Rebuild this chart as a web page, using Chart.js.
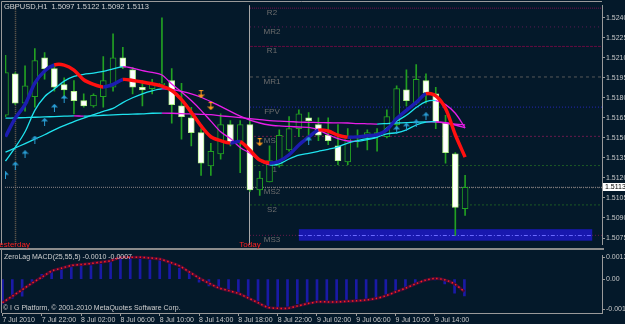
<!DOCTYPE html>
<html><head><meta charset="utf-8">
<script src="https://cdn.jsdelivr.net/npm/chart.js@4.4.1/dist/chart.umd.min.js"></script>
<style>
html,body{margin:0;padding:0;background:#04192a;width:625px;height:324px;overflow:hidden}
canvas{position:absolute;left:0}
#c1{top:0}
#c2{top:250px}
</style></head><body>
<canvas id="c1" width="625" height="250" style="width:625px;height:250px"></canvas>
<canvas id="c2" width="625" height="74" style="width:625px;height:74px"></canvas>
<script>
// ---------- DATA ----------
const openP  = [1.5167,1.5198,1.5176,1.5181,1.5210,1.5202,1.5190,1.5185,1.5178,1.5174,1.5181,1.5188,1.5210,1.5201,1.5188,1.5187,1.5190,1.5193,1.5174,1.5165,1.5154,1.5129,1.5138,1.5160,1.5146,1.5160,1.5111,1.5117,1.5129,1.5141,1.5157,1.5165,1.5160,1.5152,1.5144,1.5132,1.5151,1.5152,1.5152,1.5151,1.5160,1.5186,1.5176,1.5193,1.5183,1.5161,1.5138,1.5097];
const highP  = [1.5212,1.5199,1.5204,1.5217,1.5214,1.5205,1.5195,1.5193,1.5183,1.5183,1.5211,1.5228,1.5218,1.5203,1.5193,1.5194,1.5240,1.5202,1.5191,1.5173,1.5157,1.5146,1.5168,1.5163,1.5163,1.5163,1.5125,1.5144,1.5156,1.5166,1.5171,1.5169,1.5165,1.5165,1.5160,1.5157,1.5156,1.5156,1.5157,1.5171,1.5189,1.5201,1.5205,1.5198,1.5188,1.5167,1.5139,1.5122];
const lowP   = [1.5166,1.5175,1.5170,1.5173,1.5194,1.5185,1.5180,1.5168,1.5173,1.5173,1.5173,1.5185,1.5202,1.5183,1.5174,1.5183,1.5188,1.5161,1.5149,1.5144,1.5122,1.5122,1.5134,1.5144,1.5124,1.5110,1.5107,1.5117,1.5128,1.5140,1.5151,1.5148,1.5148,1.5145,1.5130,1.5130,1.5143,1.5141,1.5140,1.5150,1.5157,1.5174,1.5175,1.5176,1.5157,1.5131,1.5077,1.5092];
const closeP = [1.5199,1.5176,1.5189,1.5208,1.5202,1.5188,1.5186,1.5178,1.5174,1.5182,1.5193,1.5210,1.5203,1.5188,1.5186,1.5191,1.5191,1.5175,1.5166,1.5154,1.5131,1.5140,1.5160,1.5146,1.5160,1.5111,1.5120,1.5133,1.5152,1.5157,1.5168,1.5163,1.5152,1.5148,1.5133,1.5151,1.5150,1.5154,1.5154,1.5166,1.5187,1.5178,1.5194,1.5184,1.5162,1.5139,1.5098,1.5113];

const maFast = [1.51509,1.51648,1.51750,1.51911,1.52002,1.52047,1.52046,1.52009,1.51936,1.51901,1.51882,1.51901,1.51938,1.51931,1.51920,1.51906,1.51889,1.51856,1.51787,1.51692,1.51590,1.51509,1.51480,1.51462,1.51473,1.51407,1.51334,1.51312,1.51327,1.51374,1.51447,1.51506,1.51558,1.51552,1.51520,1.51506,1.51508,1.51517,1.51524,1.51561,1.51645,1.51707,1.51766,1.51831,1.51816,1.51721,1.51524,1.51356];
const maMid  = [1.51327,1.51429,1.51546,1.51707,1.51809,1.51867,1.51926,1.51962,1.51977,1.51986,1.51999,1.52018,1.52035,1.52023,1.52004,1.51991,1.51972,1.51904,1.51845,1.51780,1.51707,1.51626,1.51546,1.51495,1.51429,1.51385,1.51331,1.51298,1.51305,1.51342,1.51371,1.51385,1.51400,1.51415,1.51433,1.51462,1.51480,1.51495,1.51506,1.51531,1.51539,1.51561,1.51597,1.51619,1.51621,1.51612,1.51597,1.51575];
const maSlow = [1.51393,1.51425,1.51458,1.51491,1.51524,1.51561,1.51593,1.51623,1.51648,1.51674,1.51699,1.51721,1.51765,1.51801,1.51831,1.51853,1.51867,1.51863,1.51849,1.51831,1.51805,1.51772,1.51736,1.51699,1.51663,1.51634,1.51612,1.51597,1.51590,1.51586,1.51582,1.51579,1.51561,1.51524,1.51495,1.51477,1.51475,1.51488,1.51506,1.51575,1.51626,1.51670,1.51728,1.51772,1.51780,1.51750,1.51685,1.51575];
const maLong = [1.51648,1.51650,1.51653,1.51655,1.51658,1.51660,1.51663,1.51666,1.51663,1.51666,1.51670,1.51673,1.51676,1.51678,1.51681,1.51685,1.51686,1.51685,1.51682,1.51680,1.51677,1.51674,1.51666,1.51659,1.51652,1.51644,1.51637,1.51630,1.51626,1.51623,1.51619,1.51617,1.51615,1.51614,1.51613,1.51612,1.51608,1.51606,1.51604,1.51608,1.51612,1.51615,1.51619,1.51621,1.51620,1.51615,1.51604,1.51597];

const macdHist   = [-0.00147,-0.00114,-0.00101,-0.00018,0.00028,0.00043,0.00065,0.00078,0.00083,0.00080,0.00089,0.00111,0.00120,0.00130,0.00120,0.00115,0.00111,0.00093,0.00065,0.00037,-0.00018,-0.00040,-0.00057,-0.00074,-0.00083,-0.00111,-0.00129,-0.00173,-0.00168,-0.00162,-0.00146,-0.00139,-0.00129,-0.00129,-0.00133,-0.00129,-0.00124,-0.00118,-0.00111,-0.00090,-0.00068,-0.00046,-0.00028,-0.00010,-0.00005,-0.00028,-0.00083,-0.00100];
const macdSignal = [-0.00140,-0.00101,-0.00063,-0.00024,0.00012,0.00048,0.00065,0.00081,0.00087,0.00093,0.00101,0.00109,0.00129,0.00130,0.00130,0.00126,0.00120,0.00101,0.00079,0.00043,0.00007,-0.00024,-0.00052,-0.00068,-0.00085,-0.00112,-0.00140,-0.00168,-0.00173,-0.00173,-0.00160,-0.00146,-0.00135,-0.00135,-0.00135,-0.00132,-0.00129,-0.00124,-0.00115,-0.00099,-0.00076,-0.00054,-0.00029,-0.00007,0.00004,-0.00004,-0.00029,-0.00074];

const pivotNames  = ['R2','MR2','R1','MR1','FPV','MS1','S1','MS2','S2','MS3'];
const pivotLevels = [1.52473,1.52332,1.52186,1.51957,1.51731,1.51512,1.51293,1.51127,1.50998,1.50770];
const zoneLow = 1.50730, zoneHigh = 1.50816, zoneFrom = 30, zoneTo = 60;

const upArrowIdx   = [0,1,2,3,4,5,6,31,40,41,42,43];
const upArrowPrice = [1.51220,1.51293,1.51378,1.51488,1.51621,1.51726,1.51792,1.51480,1.51561,1.51585,1.51609,1.51663];
const downArrowIdx   = [20,21,26];
const downArrowPrice = [1.51828,1.51738,1.51468];

const priceTicks   = [1.5240,1.5225,1.5210,1.5195,1.5180,1.5165,1.5150,1.5135,1.5120,1.5105,1.5090,1.5075];
const macdTicks    = [0.0013,0,-0.0018];
const macdTickText = ['0.0013','0.00','-0.0018'];
const timeTickIndex = [0,4,8,12,16,20,24,28,32,36,40,44];
const timeTickText  = ['7 Jul 2010','7 Jul 22:00','8 Jul 02:00','8 Jul 06:00','8 Jul 10:00','8 Jul 14:00','8 Jul 18:00','8 Jul 22:00','9 Jul 02:00','9 Jul 06:00','9 Jul 10:00','9 Jul 14:00'];
const todayIdx = 25, yesterdayIdx = 1;
const headerText = 'GBPUSD,H1  1.5097 1.5122 1.5092 1.5113';
const macdTitle = 'ZeroLag MACD(25,55,5) -0.0010 -0.0007';
const copyright = '\u00a9 I G Platform, \u00a9 2001-2010 MetaQuotes Software Corp.';

// ---------- STYLE ----------
const BG = '#04192a', GRID = '#9a9a9a', TXT = '#c8c8c8';
const CYAN = '#1fe3ee', MAG = '#e81ee8';
const F = "'Liberation Sans Narrow','Liberation Sans',Arial,sans-serif";
const pivotColor = ['#74124a','#5c1a52','#660c40','#585858','#2626b8','#6a1a4c','#1d5a24','#6a6a6a','#1d5a24','#6a1a4c'];
const pivotDash  = [[1,1],[1,3],[3,1],[3,3],[1,2],[2,2],[2,2],[1,2],[2,2],[1,2]];
const xMin = -0.05, xMax = 61;
const yMin = 1.506991, yMax = 1.524949;
const mMin = -0.002011, mMax = 0.001424;

Chart.defaults.animation = false;
Chart.defaults.plugins.legend.display = false;
Chart.defaults.plugins.tooltip.enabled = false;
Chart.defaults.events = [];

const idx = closeP.map((_, i) => i);
const pts = arr => arr.map((v, i) => ({x: i, y: v}));
const upDown = (up, down) => ({borderColor: c => c.p1.parsed.y >= c.p0.parsed.y ? up : down});

function arrowImg(color, up) {
  const c = document.createElement('canvas'); c.width = 7; c.height = 8;
  const g = c.getContext('2d'); g.fillStyle = color;
  g.beginPath();
  if (up) { g.moveTo(3.5,0); g.lineTo(7,3.5); g.lineTo(0,3.5); g.closePath(); g.fill(); g.fillRect(3,3,1,5); }
  else { g.moveTo(3.5,8); g.lineTo(7,4.5); g.lineTo(0,4.5); g.closePath(); g.fill(); g.fillRect(3,0,1,5); g.fillRect(1.5,0,4,1); }
  return c;
}
const upImg = arrowImg('#2a9fd6', true), downImg = arrowImg('#ff9a1e', false);

const ms3Index = pivotNames.indexOf('MS3');

const mainDeco = {
  id: 'mainDeco',
  beforeDatasetsDraw(chart) {
    const {ctx, chartArea: a, scales: {x, y}} = chart;
    ctx.save();
    const xyd = Math.round(x.getPixelForValue(yesterdayIdx)) + 0.5;
    ctx.strokeStyle = '#6d6252'; ctx.lineWidth = 1.5; ctx.setLineDash([1,1]);
    ctx.beginPath(); ctx.moveTo(xyd, a.top); ctx.lineTo(xyd, a.bottom); ctx.stroke();
    const xt = Math.round(x.getPixelForValue(todayIdx)) - 0.5;
    ctx.strokeStyle = '#a8a8a8'; ctx.lineWidth = 1; ctx.setLineDash([]);
    ctx.beginPath(); ctx.moveTo(xt, a.top); ctx.lineTo(xt, a.bottom); ctx.stroke();
    ctx.font = '8px ' + F; ctx.fillStyle = '#6e6e6e'; ctx.textAlign = 'center'; ctx.textBaseline = 'middle';
    const lx = x.getPixelForValue(todayIdx + 2.25);
    pivotNames.forEach((n, k) => ctx.fillText(n, lx, y.getPixelForValue(pivotLevels[k]) + 4.5));
    ctx.restore();
  },
  afterDatasetDraw(chart, args) {
    if (args.index !== ms3Index) return;
    const {ctx, chartArea: a, scales: {x, y}} = chart;
    ctx.save();
    ctx.beginPath(); ctx.rect(a.left, a.top, a.right - a.left, a.bottom - a.top); ctx.clip();
    const x0 = x.getPixelForValue(zoneFrom), x1 = x.getPixelForValue(zoneTo);
    const y0 = y.getPixelForValue(zoneHigh), y1 = y.getPixelForValue(zoneLow);
    ctx.fillStyle = '#1818ae'; ctx.fillRect(x0, y0, x1 - x0, y1 - y0);
    const ym = Math.round(y.getPixelForValue(pivotLevels[ms3Index])) + 0.5;
    ctx.strokeStyle = '#6a6aff'; ctx.setLineDash([4,2,1,2]); ctx.lineWidth = 1;
    ctx.beginPath(); ctx.moveTo(x0, ym); ctx.lineTo(x1, ym); ctx.stroke();
    ctx.restore();
  },
  afterDraw(chart) {
    const {ctx, chartArea: a, scales: {x, y}} = chart;
    ctx.save();
    ctx.strokeStyle = GRID; ctx.lineWidth = 1;
    ctx.beginPath(); ctx.moveTo(1.5, a.bottom); ctx.lineTo(1.5, 1.5); ctx.lineTo(a.right, 1.5); ctx.stroke();
    ctx.fillStyle = '#8c8c8c'; ctx.fillRect(0, 248, 604, 2);
    ctx.font = '7.5px ' + F; ctx.fillStyle = '#d4d4d4'; ctx.textBaseline = 'middle'; ctx.textAlign = 'left';
    ctx.fillText(headerText, 4, 6.5);
    ctx.font = "8px 'Liberation Sans', Arial, sans-serif"; ctx.fillStyle = '#ff2020'; ctx.textAlign = 'center';
    ctx.fillText('Today', x.getPixelForValue(todayIdx), 245);
    ctx.fillText('Yesterday', x.getPixelForValue(yesterdayIdx) - 3, 245);
    const py = y.getPixelForValue(closeP[closeP.length - 1]);
    ctx.fillStyle = '#ffffff'; ctx.fillRect(603, Math.round(py) - 4, 22, 8);
    ctx.fillStyle = '#000000'; ctx.textAlign = 'left'; ctx.font = '7px ' + F;
    ctx.fillText(closeP[closeP.length - 1].toFixed(4), 605, Math.round(py) + 0.5);
    ctx.restore();
  }
};

const datasets1 = [
  ...pivotLevels.map((lv, k) => ({type: 'line', data: [{x: todayIdx, y: lv}, {x: xMax, y: lv}], borderColor: pivotColor[k], borderDash: pivotDash[k], borderWidth: 1, pointRadius: 0, order: 20})),
  {type: 'line', data: [{x: xMin, y: closeP[47]}, {x: xMax, y: closeP[47]}], borderColor: '#8e8486', borderDash: [1,1], borderWidth: 1, pointRadius: 0, order: 19},
  {type: 'bar', data: idx.map(i => ({x: i, y: [lowP[i], highP[i]]})), backgroundColor: '#22a022', barThickness: 1, grouped: false, order: 10},
  {type: 'bar', data: idx.map(i => ({x: i, y: [openP[i], closeP[i]]})),
   backgroundColor: c => closeP[c.dataIndex] < openP[c.dataIndex] ? '#ffffff' : BG,
   borderColor: c => closeP[c.dataIndex] < openP[c.dataIndex] ? '#b4f08c' : '#22a022',
   borderWidth: 1, borderSkipped: false, barThickness: 6, grouped: false, order: 9},
  {type: 'line', data: pts(maLong), borderColor: CYAN, segment: upDown(CYAN, MAG), borderWidth: 1.3, pointRadius: 0, tension: 0.3, order: 5},
  {type: 'line', data: pts(maSlow), borderColor: CYAN, segment: upDown(CYAN, MAG), borderWidth: 1.3, pointRadius: 0, tension: 0.3, order: 4},
  {type: 'line', data: pts(maMid), borderColor: CYAN, segment: upDown(CYAN, MAG), borderWidth: 1.3, pointRadius: 0, tension: 0.3, order: 3},
  {type: 'line', data: pts(maFast), borderColor: '#1c1cb0', segment: upDown('#1c1cb0', '#ff1010'), borderWidth: 3.5, pointRadius: 0, tension: 0.3, order: 1},
  {type: 'line', data: upArrowIdx.map((i, k) => ({x: i, y: upArrowPrice[k]})), showLine: false, pointStyle: upImg, pointRadius: 4, order: 0},
  {type: 'line', data: downArrowIdx.map((i, k) => ({x: i, y: downArrowPrice[k]})), showLine: false, pointStyle: downImg, pointRadius: 4, order: 0}
];

new Chart(document.getElementById('c1'), {
  type: 'bar',
  data: {datasets: datasets1},
  options: {
    responsive: false,
    layout: {padding: {left: 2, top: 2, right: 0, bottom: 2}},
    scales: {
      x: {type: 'linear', display: false, min: xMin, max: xMax, offset: false, grid: {offset: false}},
      y: {type: 'linear', position: 'right', min: yMin, max: yMax, beginAtZero: false, bounds: 'data',
          afterBuildTicks: s => { s.ticks = priceTicks.map(v => ({value: v})); },
          afterFit: s => { s.width = 23; },
          ticks: {color: TXT, font: {family: F, size: 7}, padding: 1, autoSkip: false, callback: v => Number(v).toFixed(4)},
          grid: {drawOnChartArea: false, drawTicks: true, tickLength: 3, color: GRID},
          border: {display: true, color: GRID}}
    }
  },
  plugins: [mainDeco]
});

const subDeco = {
  id: 'subDeco',
  afterDraw(chart) {
    const {ctx, chartArea: a} = chart;
    ctx.save();
    ctx.strokeStyle = GRID; ctx.lineWidth = 1;
    ctx.beginPath(); ctx.moveTo(1.5, 0); ctx.lineTo(1.5, a.bottom); ctx.stroke();
    ctx.font = '7px ' + F; ctx.fillStyle = '#d0d0d0'; ctx.textBaseline = 'middle'; ctx.textAlign = 'left';
    ctx.fillText(macdTitle, 4, 7);
    ctx.fillText(copyright, 3, 58.5);
    ctx.restore();
  }
};

new Chart(document.getElementById('c2'), {
  type: 'bar',
  data: {datasets: [
    {type: 'line', data: pts(macdSignal), borderColor: '#ff2020', borderDash: [1.5, 2.5], borderWidth: 1.5, pointRadius: 0, tension: 0.3, order: 0},
    {type: 'line', data: pts(macdSignal), borderColor: '#4a0a34', borderWidth: 3, pointRadius: 0, tension: 0.3, order: 1},
    {type: 'bar', data: pts(macdHist), backgroundColor: '#1a1aa6', barThickness: 2, order: 2}
  ]},
  options: {
    responsive: false,
    layout: {padding: {left: 2, top: 1, right: 0, bottom: 0}},
    scales: {
      x: {type: 'linear', position: 'bottom', min: xMin, max: xMax, offset: false,
          afterBuildTicks: s => { s.ticks = timeTickIndex.map(v => ({value: v})); },
          afterFit: s => { s.height = 11; },
          ticks: {color: TXT, font: {family: F, size: 7}, padding: 0, align: 'start', maxRotation: 0, autoSkip: false, callback: (v, i) => timeTickText[i]},
          grid: {drawOnChartArea: false, drawTicks: true, tickLength: 3, color: GRID, offset: false},
          border: {display: true, color: GRID}},
      y: {type: 'linear', position: 'right', min: mMin, max: mMax, beginAtZero: false, bounds: 'data',
          afterBuildTicks: s => { s.ticks = macdTicks.map(v => ({value: v})); },
          afterFit: s => { s.width = 23; },
          ticks: {color: TXT, font: {family: F, size: 7}, padding: 1, autoSkip: false, callback: (v, i) => macdTickText[i]},
          grid: {drawOnChartArea: false, drawTicks: true, tickLength: 3, color: GRID},
          border: {display: true, color: GRID}}
    }
  },
  plugins: [subDeco]
});
</script></body></html>
